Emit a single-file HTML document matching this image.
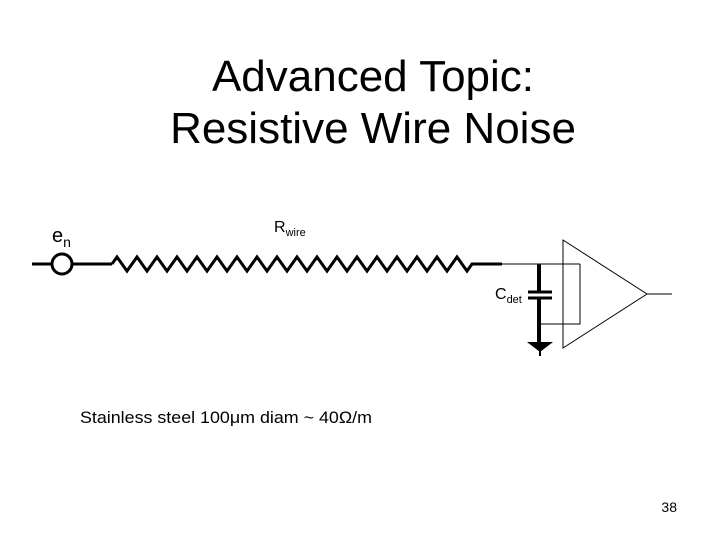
<!DOCTYPE html>
<html><head><style>
body{margin:0;width:720px;height:540px;background:#fff;overflow:hidden;font-family:"Liberation Sans",Arial,sans-serif}
</style></head><body>
<svg width="720" height="540" xmlns="http://www.w3.org/2000/svg" font-family="Liberation Sans, Arial, sans-serif">
<text x="373" y="91" font-size="44" text-anchor="middle">Advanced Topic:</text>
<text x="373" y="143" font-size="44" text-anchor="middle">Resistive Wire Noise</text>
<text x="52" y="242" font-size="20">e<tspan font-size="14" dy="5">n</tspan></text>
<text x="274" y="232" font-size="16">R<tspan font-size="11" dy="4">wire</tspan></text>
<text x="495" y="299" font-size="16">C<tspan font-size="11" dy="4">det</tspan></text>
<g stroke="#000" fill="none">
<line x1="32" y1="264" x2="52" y2="264" stroke-width="3"/>
<circle cx="62" cy="264" r="10" stroke-width="3" fill="#fff"/>
<line x1="72" y1="264" x2="112" y2="264" stroke-width="3"/>
<path d="M112 264 l5 -7 l10 14 l5 -7 l5 -7 l10 14 l5 -7 l5 -7 l10 14 l5 -7 l5 -7 l10 14 l5 -7 l5 -7 l10 14 l5 -7 l5 -7 l10 14 l5 -7 l5 -7 l10 14 l5 -7 l5 -7 l10 14 l5 -7 l5 -7 l10 14 l5 -7 l5 -7 l10 14 l5 -7 l5 -7 l10 14 l5 -7 l5 -7 l10 14 l5 -7 l5 -7 l10 14 l5 -7 l5 -7 l10 14 l5 -7 l5 -7 l10 14 l5 -7 l5 -7 l10 14 l5 -7 l5 -7 l10 14 l5 -7 l5 -7 l10 14 l5 -7 L502 264" stroke-width="3" stroke-linejoin="miter"/>
<line x1="502" y1="264" x2="580" y2="264" stroke-width="1"/>
<polyline points="580,264 580,324 539,324" stroke-width="1"/>
<line x1="539" y1="264" x2="539" y2="292" stroke-width="4"/>
<line x1="539" y1="298" x2="539" y2="348" stroke-width="4"/>
<line x1="528" y1="292" x2="552" y2="292" stroke-width="3"/>
<line x1="528" y1="298" x2="552" y2="298" stroke-width="3"/>
<polygon points="563,240 647,294 563,348" stroke-width="1"/>
<line x1="647" y1="294" x2="672" y2="294" stroke-width="1"/>
</g>
<polygon points="527,342 553,342 540,352" fill="#000"/>
<line x1="540" y1="350" x2="540" y2="356" stroke="#000" stroke-width="2"/>
<text x="80" y="423" font-size="17" textLength="292" lengthAdjust="spacingAndGlyphs">Stainless steel 100μm diam ~ 40Ω/m</text>
<text x="677" y="512" font-size="14" text-anchor="end">38</text>
</svg>
</body></html>
